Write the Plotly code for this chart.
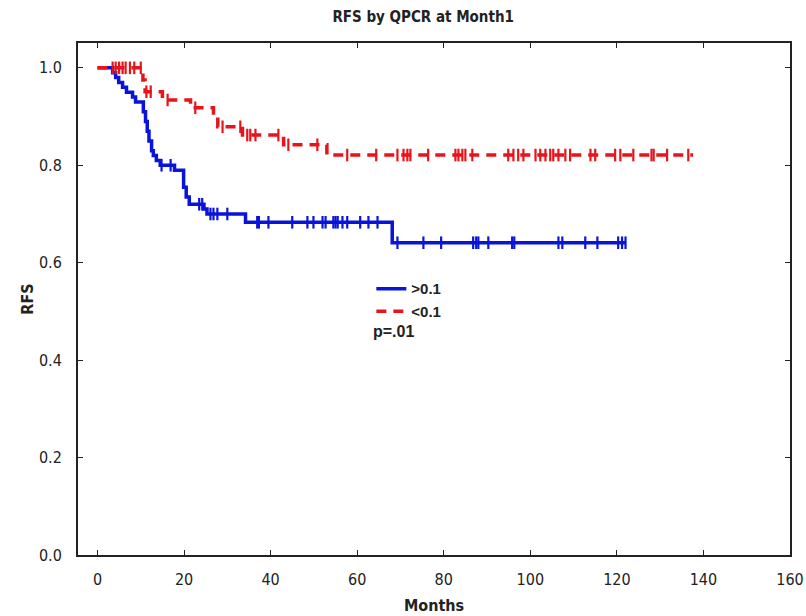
import plotly.graph_objects as go

# Kaplan-Meier relapse-free survival by QPCR level at month 1
# Event times (months) and survival level reached after each event
high_event_months = [3.5, 4.2, 4.9, 5.8, 6.7, 8.1, 8.8, 10.6, 11.1, 11.5, 11.9, 12.5, 12.9,
                     13.6, 14.5, 17.8, 19.9, 20.5, 21.2, 24.6, 25.3, 34.2, 68.1]
high_levels = [0.99, 0.98, 0.97, 0.96, 0.95, 0.94, 0.93, 0.91, 0.89, 0.87, 0.85, 0.83, 0.82,
               0.81, 0.80, 0.79, 0.755, 0.735, 0.72, 0.71, 0.70, 0.683, 0.641]
high_followup_end = 122.0
high_censored = [14.8, 16.9, 23.5, 24.2, 26.1, 26.8, 27.7, 30.0, 36.9, 37.3, 39.5, 45.0, 48.5,
                 49.9, 52.0, 52.7, 54.5, 55.0, 55.5, 56.6, 57.7, 60.7, 62.6, 64.7, 69.3, 75.3,
                 79.4, 86.8, 87.5, 88.0, 90.3, 95.8, 96.3, 106.5, 107.4, 112.7, 115.5, 120.3,
                 121.2, 122.0]

low_event_months = [10.5, 11.0, 15.0, 21.5, 26.8, 27.8, 33.5, 43.0, 53.0]
low_levels = [0.975, 0.951, 0.934, 0.918, 0.90, 0.879, 0.862, 0.842, 0.821]
low_followup_end = 137.6
low_censored = [3.5, 4.2, 5.0, 5.8, 6.5, 7.5, 8.5, 10.0, 11.3, 12.3, 16.2, 22.6, 28.9, 33.0,
                34.6, 35.3, 36.5, 41.8, 44.1, 50.8, 57.7, 64.4, 69.3, 70.7, 71.6, 72.3, 76.4,
                82.7, 83.4, 84.3, 85.0, 86.6, 94.9, 96.1, 97.2, 98.4, 101.2, 102.3, 103.5,
                104.6, 105.3, 106.5, 108.1, 109.2, 113.9, 115.0, 119.6, 120.8, 123.8, 128.0,
                128.5, 131.6, 136.5]

x_ticks = [0, 20, 40, 60, 80, 100, 120, 140, 160]
y_ticks = [0.0, 0.2, 0.4, 0.6, 0.8, 1.0]

BLUE = "#0a14d8"
RED = "#e8141b"
FONT = "DejaVu Sans Condensed, Liberation Sans Narrow, Arial Narrow, Liberation Sans, sans-serif"
LEGEND_FONT = "Liberation Sans, Arial, sans-serif"


def step_xy(events, levels, end):
    xs = [0.0] + list(events) + [end]
    ys = [1.0] + list(levels) + [levels[-1]]
    return xs, ys


def survival_at(t, events, levels):
    s = 1.0
    for e, lv in zip(events, levels):
        if t >= e:
            s = lv
    return s


fig = go.Figure()

for name, events, levels, end, cens, color, dash in [
    (">0.1", high_event_months, high_levels, high_followup_end, high_censored, BLUE, "solid"),
    ("<0.1", low_event_months, low_levels, low_followup_end, low_censored, RED, "10px,7px"),
]:
    xs, ys = step_xy(events, levels, end)
    fig.add_trace(go.Scatter(
        x=xs, y=ys, mode="lines", name=name, line_shape="hv",
        line=dict(color=color, width=3.5, dash=dash),
    ))
    fig.add_trace(go.Scatter(
        x=cens, y=[survival_at(t, events, levels) for t in cens],
        mode="markers", showlegend=False, hoverinfo="skip",
        marker=dict(symbol="line-ns", size=9, line=dict(color=color, width=2.2)),
    ))

axis_common = dict(
    showgrid=False, zeroline=False, showline=True, linecolor="#222222", linewidth=2,
    mirror="ticks", ticks="inside", ticklen=5, tickwidth=1.2, tickcolor="#222222",
    tickfont=dict(family=FONT, size=16, color="#222222"), automargin=False,
)

fig.update_xaxes(range=[-4.5, 160], tickvals=x_ticks, ticklabelstandoff=9,
                 title=dict(text="<b>Months</b>", font=dict(family=FONT, size=16, color="#222222"),
                            standoff=12),
                 **axis_common)
fig.update_yaxes(range=[0, 1.051], tickvals=y_ticks, tickformat=".1f", ticklabelstandoff=11,
                 title=dict(text="<b>RFS</b>", font=dict(family=FONT, size=16, color="#222222"),
                            standoff=1),
                 **axis_common)

fig.add_annotation(text="<b>p=.01</b>", xref="paper", yref="paper", x=0.411, y=0.436,
                   xanchor="left", yanchor="middle", showarrow=False,
                   font=dict(family=LEGEND_FONT, size=16, color="#222222"))

fig.update_layout(
    width=806, height=616,
    margin=dict(l=78, r=16, t=43, b=61),
    paper_bgcolor="white", plot_bgcolor="white",
    title=dict(text="<b>RFS by QPCR at Month1</b>", x=0.525, xanchor="center", y=0.972,
               yanchor="middle", font=dict(family=FONT, size=15, color="#222222")),
    legend=dict(x=0.412, y=0.552, xanchor="left", yanchor="top", itemwidth=30,
                bgcolor="rgba(0,0,0,0)", borderwidth=0, tracegroupgap=0,
                font=dict(family=LEGEND_FONT, size=15, color="#222222", weight="bold")),
    showlegend=True,
)

fig.write_html("out.html")
